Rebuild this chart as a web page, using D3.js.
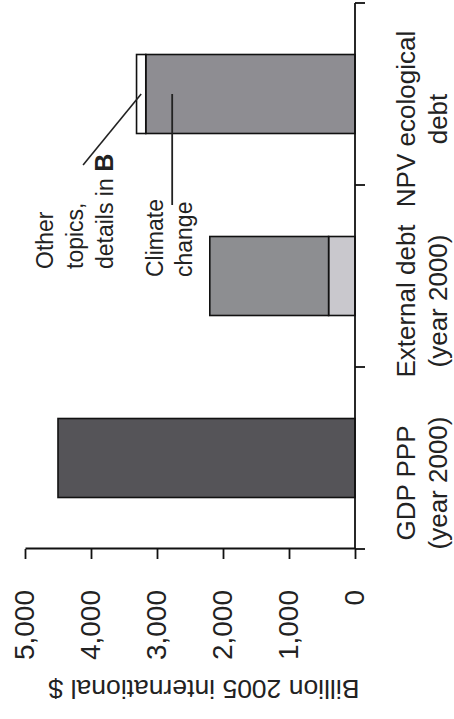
<!DOCTYPE html>
<html>
<head>
<meta charset="utf-8">
<script src="https://cdn.jsdelivr.net/npm/d3@7"></script>
<style>
  html, body { margin: 0; padding: 0; background: #fff; }
  svg { display: block; }
  text { font-family: "Liberation Sans", Arial, sans-serif; fill: #222; }
</style>
</head>
<body>
<svg id="chart" width="454" height="719"></svg>
<script>
// ---- data ----
const categories = ["GDP PPP", "External debt", "NPV ecological debt"];
const labelLine1 = ["GDP PPP", "External debt", "NPV ecological"];
const labelLine2 = ["(year 2000)", "(year 2000)", "debt"];
const lowerValues = [4500, 400, 3170];   // segment starting at 0
const upperValues = [0, 1800, 140];      // segment stacked on top
const valueTicks = [0, 1000, 2000, 3000, 4000, 5000];
const yTitle = "Billion 2005 international $";
const annotationOther = ["Other", "topics,", "details in "];
const annotationClimate = ["Climate", "change"];

// ---- layout (drawn in the unrotated frame, then rotated -90deg) ----
const svg = d3.select("#chart");
const g = svg.append("g").attr("transform", "translate(0,719) rotate(-90)");

const x = d3.scaleBand().domain(categories).range([170, 716]).padding(0);
const y = d3.scaleLinear().domain([0, 5000]).range([355, 25]);
const barW = x.step() * 0.434;

const lowerColor = ["#555458", "#c9c8cd", "#8e8d92"];
const upperColor = ["#555458", "#8d8e91", "#ffffff"];

// bars
categories.forEach((c, i) => {
  const x0 = x(c) + (x.step() - barW) / 2;
  const lo = lowerValues[i], up = upperValues[i];
  g.append("rect")
    .attr("x", x0).attr("width", barW)
    .attr("y", y(lo)).attr("height", y(0) - y(lo))
    .attr("fill", lowerColor[i]).attr("stroke", "#111").attr("stroke-width", 1.6);
  if (up > 0) {
    g.append("rect")
      .attr("x", x0).attr("width", barW)
      .attr("y", y(lo + up)).attr("height", y(lo) - y(lo + up))
      .attr("fill", upperColor[i]).attr("stroke", "#111").attr("stroke-width", 1.6);
  }
});

// value axis
const yAxis = d3.axisLeft(y).tickValues(valueTicks).tickFormat(d3.format(","))
  .tickSize(10).tickSizeOuter(0).tickPadding(31);
const ya = g.append("g").attr("transform", "translate(170,0)").call(yAxis);
ya.select(".domain").attr("stroke", "#111").attr("stroke-width", 1.8);
ya.selectAll(".tick line").attr("stroke", "#111").attr("stroke-width", 1.8);
ya.selectAll(".tick text").style("font-size", "28px").attr("fill", "#222")
  .style("font-family", '"Liberation Sans", Arial, sans-serif');

// category axis
g.append("line").attr("x1", x.range()[0]).attr("x2", x.range()[1])
  .attr("y1", y(0)).attr("y2", y(0)).attr("stroke", "#111").attr("stroke-width", 1.8);
const bounds = categories.map(c => x(c)).concat([x.range()[1]]);
g.selectAll(".ctick").data(bounds).join("line")
  .attr("x1", d => d).attr("x2", d => d)
  .attr("y1", y(0)).attr("y2", y(0) + 10)
  .attr("stroke", "#111").attr("stroke-width", 1.8);

categories.forEach((c, i) => {
  const t = g.append("text").attr("text-anchor", "middle").style("font-size", "26px");
  const t1 = t.append("tspan").attr("x", 0).attr("y", 415).text(labelLine1[i]);
  const t2 = t.append("tspan").attr("x", 0).attr("y", 447).text(labelLine2[i]);
  const half = Math.max(t1.node().getComputedTextLength(), t2.node().getComputedTextLength()) / 2;
  let cx = x(c) + x.step() / 2 - 25;
  cx = Math.min(cx, 714 - half);
  t.selectAll("tspan").attr("x", cx);
});

// y title
g.append("text")
  .attr("transform", `translate(39,${(y(0) + y(5000)) / 2 + 14}) rotate(-90)`)
  .attr("text-anchor", "middle").style("font-size", "26.5px")
  .text(yTitle);

// annotations
const npvC = x(categories[2]) + x.step() / 2;
const otherT = g.append("text").style("font-size", "23px");
annotationOther.forEach((s, k) => {
  otherT.append("tspan").attr("x", 450).attr("y", 53 + k * 30).text(s);
  if (k === 2) otherT.append("tspan").attr("font-weight", "bold").style("font-size", "25px").text("B");
});
const climT = g.append("text").style("font-size", "23px");
annotationClimate.forEach((s, k) => {
  climT.append("tspan").attr("x", 442).attr("y", 163 + k * 29).text(s);
});

// leader lines
g.append("line")
  .attr("x1", npvC - 71).attr("y1", y(4120))
  .attr("x2", npvC).attr("y2", y(lowerValues[2] + upperValues[2] / 2))
  .attr("stroke", "#222").attr("stroke-width", 1.6);
g.append("line")
  .attr("x1", npvC - 111).attr("y1", y(2770))
  .attr("x2", npvC).attr("y2", y(2770))
  .attr("stroke", "#222").attr("stroke-width", 1.8);
</script>
</body>
</html>
